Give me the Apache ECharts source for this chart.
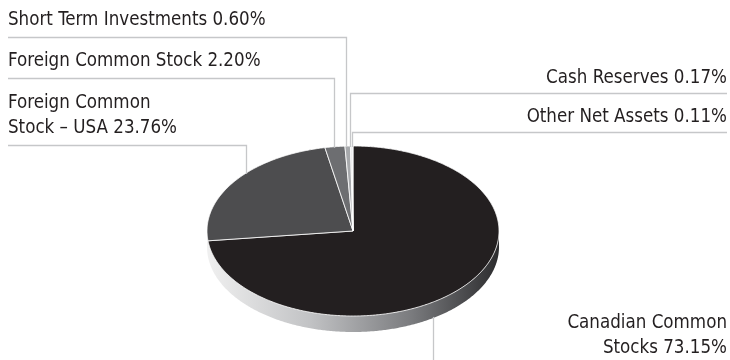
<!DOCTYPE html>
<html>
<head>
<meta charset="utf-8">
<script src="https://cdn.jsdelivr.net/npm/echarts@6/dist/echarts.min.js"></script>
<style>
  html, body { margin: 0; padding: 0; background: #ffffff; }
  #chart { width: 730px; height: 360px; }
</style>
</head>
<body>
<div id="chart"></div>
<script>
// Portfolio allocation (percent of net assets)
const categories = [
  'Canadian Common\nStocks',
  'Foreign Common\nStock – USA',
  'Foreign Common Stock',
  'Short Term Investments',
  'Cash Reserves',
  'Other Net Assets'
];
const weights = [73.15, 23.76, 2.20, 0.60, 0.17, 0.11];
const sliceColors = ['#231f20', '#4d4d4f', '#6d6e71', '#a7a9ac', '#d1d3d4', '#e6e7e8'];

// Label placement: which side the text sits on, text anchor, elbow height and
// the x where the leader drops onto the pie.
const labelLayout = [
  { side: 'right', tx: 727, ty: 335.5, elbowY: null, lineX: 433.5 },
  { side: 'left',  tx: 8,   ty: 115.5, elbowY: 145.5, lineX: 246.5 },
  { side: 'left',  tx: 8,   ty: 61.5,  elbowY: 78.5,  lineX: 334.5 },
  { side: 'left',  tx: 8,   ty: 20,    elbowY: 37.5,  lineX: 346.5 },
  { side: 'right', tx: 727, ty: 78,    elbowY: 93.5,  lineX: 350.5 },
  { side: 'right', tx: 727, ty: 117,   elbowY: 132.5, lineX: 352.5 }
];

// Tilted pie geometry
const PIE = { cx: 353, cy: 231, rx: 146, ry: 85, depth: 16 };
const FONT = '"Liberation Sans Narrow", "DejaVu Sans Condensed", "Roboto", sans-serif';

const total = weights.reduce((a, b) => a + b, 0);
const cumStart = [];
weights.reduce((acc, v, i) => { cumStart[i] = acc; return acc + v; }, 0);

// clock angle (0 = 12 o'clock, clockwise) -> point on the top ellipse
function rimPoint(theta, dy) {
  return [PIE.cx + PIE.rx * Math.sin(theta), PIE.cy - PIE.ry * Math.cos(theta) + (dy || 0)];
}
function arcPoints(a0, a1, dy) {
  const pts = [];
  const n = Math.max(2, Math.ceil((a1 - a0) / 0.01));
  for (let k = 0; k <= n; k++) pts.push(rimPoint(a0 + (a1 - a0) * k / n, dy));
  return pts;
}
function topEdgeY(x) {
  const t = (x - PIE.cx) / PIE.rx;
  return PIE.cy - PIE.ry * Math.sqrt(Math.max(0, 1 - t * t));
}
function bottomEdgeY(x) {
  const t = (x - PIE.cx) / PIE.rx;
  return PIE.cy + PIE.ry * Math.sqrt(Math.max(0, 1 - t * t)) + PIE.depth;
}

const sideGradient = new echarts.graphic.LinearGradient(
  PIE.cx - PIE.rx, 0, PIE.cx + PIE.rx, 0,
  [
    { offset: 0, color: '#f0f0f0' },
    { offset: 0.35, color: '#c2c3c5' },
    { offset: 0.7, color: '#7a7b7e' },
    { offset: 1, color: '#2c2c2e' }
  ],
  true
);

function renderSlice(params, api) {
  const i = params.dataIndex;
  const value = api.value(0);
  const a0 = (cumStart[i] / total) * Math.PI * 2;
  const a1 = ((cumStart[i] + value) / total) * Math.PI * 2;
  const children = [];

  // visible side wall (front half only)
  const s0 = Math.max(a0, Math.PI / 2), s1 = Math.min(a1, Math.PI * 1.5);
  if (s1 > s0) {
    const topArc = arcPoints(s0, s1, 0);
    const botArc = arcPoints(s0, s1, PIE.depth).reverse();
    children.push({
      type: 'polygon',
      shape: { points: topArc.concat(botArc) },
      style: { fill: sideGradient },
      z2: 1
    });
  }

  // top face
  children.push({
    type: 'polygon',
    shape: { points: [[PIE.cx, PIE.cy]].concat(arcPoints(a0, a1, 0)) },
    style: { fill: sliceColors[i], stroke: '#ffffff', lineWidth: 0.8, lineJoin: 'round' },
    z2: 2
  });

  // leader line and label
  const L = labelLayout[i];
  let pts;
  if (L.elbowY === null) {
    pts = [[L.lineX, bottomEdgeY(L.lineX) - 1], [L.lineX, 360]];
  } else {
    const startX = L.side === 'left' ? 8 : 727;
    pts = [[startX, L.elbowY], [L.lineX, L.elbowY], [L.lineX, topEdgeY(L.lineX) + 1]];
  }
  children.push({
    type: 'polyline',
    shape: { points: pts },
    style: { stroke: '#c6c7c9', lineWidth: 1.3, fill: null },
    z2: 3
  });
  children.push({
    type: 'text',
    x: L.tx,
    y: L.ty,
    style: {
      text: categories[i] + ' ' + value.toFixed(2) + '%',
      fill: '#231f20',
      font: '18.6px ' + FONT,
      lineHeight: 25,
      align: L.side === 'left' ? 'left' : 'right',
      verticalAlign: 'middle'
    },
    z2: 4
  });

  return { type: 'group', children: children };
}

const chart = echarts.init(document.getElementById('chart'), null, { renderer: 'canvas' });
chart.setOption({
  animation: false,
  backgroundColor: '#ffffff',
  series: [{
    type: 'custom',
    coordinateSystem: 'none',
    renderItem: renderSlice,
    data: weights.map((v, i) => ({ value: [v], name: categories[i] }))
  }]
});
</script>
</body>
</html>
